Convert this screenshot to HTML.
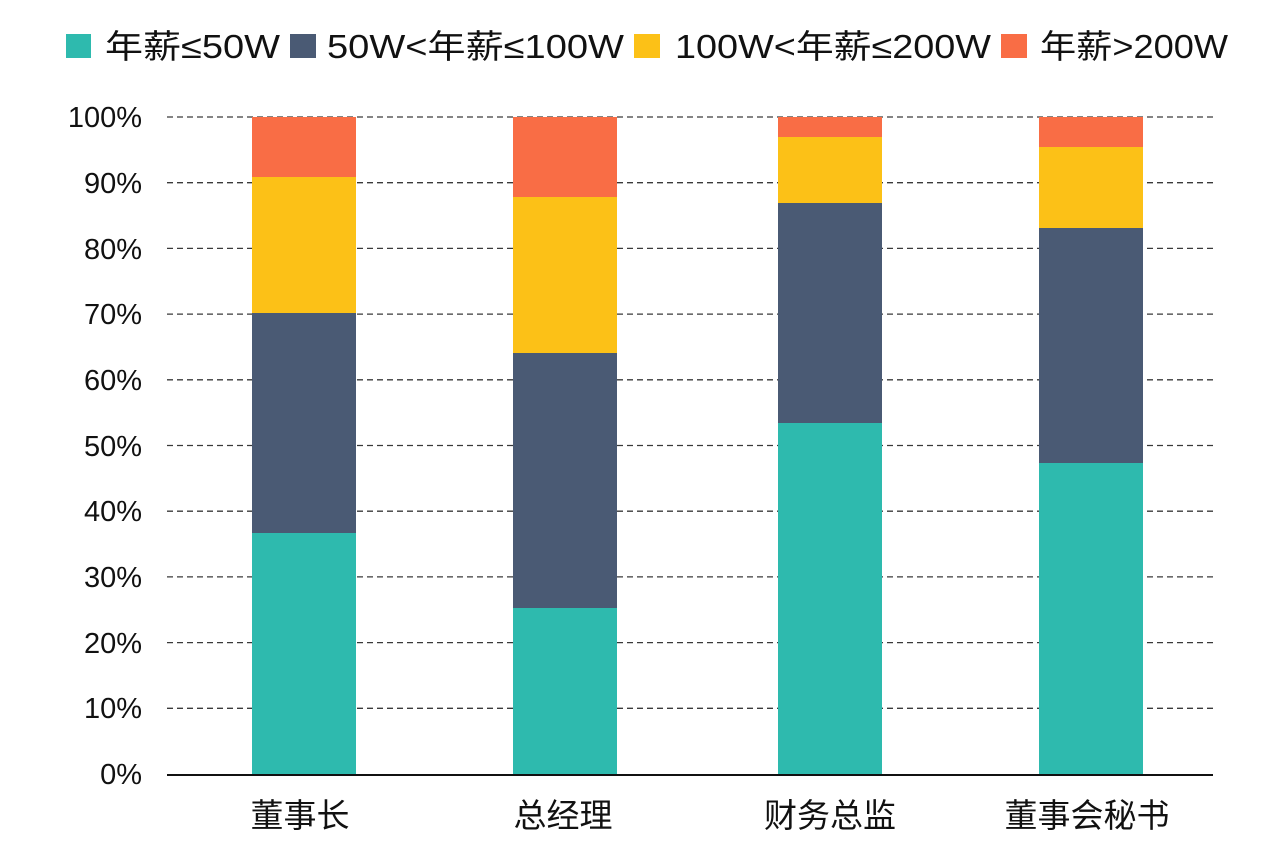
<!DOCTYPE html>
<html>
<head>
<meta charset="utf-8">
<style>
html,body{margin:0;padding:0;background:#fff;}
svg{display:block;}
text{font-family:"Liberation Sans","Noto Sans CJK SC",sans-serif;fill:#111;}
</style>
</head>
<body>
<svg width="1280" height="863" viewBox="0 0 1280 863" xmlns="http://www.w3.org/2000/svg">
<rect width="1280" height="863" fill="#fff"/>
<!-- legend -->
<rect x="66" y="34" width="25" height="24" fill="#2EBAAE"/>
<text x="105" y="58" font-size="33" textLength="175" lengthAdjust="spacingAndGlyphs">年薪≤50W</text>
<rect x="290" y="34" width="26" height="24" fill="#4A5A74"/>
<text x="327" y="58" font-size="33" textLength="297" lengthAdjust="spacingAndGlyphs">50W&lt;年薪≤100W</text>
<rect x="634" y="34" width="26" height="24" fill="#FCC117"/>
<text x="675" y="58" font-size="33" textLength="316" lengthAdjust="spacingAndGlyphs">100W&lt;年薪≤200W</text>
<rect x="1001" y="34" width="26" height="24" fill="#F96D45"/>
<text x="1040" y="58" font-size="33" textLength="188" lengthAdjust="spacingAndGlyphs">年薪&gt;200W</text>

<!-- gridlines -->
<g stroke="#3a3a3a" stroke-width="1.3" stroke-dasharray="6,4">
<line x1="167" x2="1213" y1="117" y2="117"/>
<line x1="167" x2="1213" y1="182.7" y2="182.7"/>
<line x1="167" x2="1213" y1="248.4" y2="248.4"/>
<line x1="167" x2="1213" y1="314.1" y2="314.1"/>
<line x1="167" x2="1213" y1="379.8" y2="379.8"/>
<line x1="167" x2="1213" y1="445.5" y2="445.5"/>
<line x1="167" x2="1213" y1="511.2" y2="511.2"/>
<line x1="167" x2="1213" y1="576.9" y2="576.9"/>
<line x1="167" x2="1213" y1="642.6" y2="642.6"/>
<line x1="167" x2="1213" y1="708.3" y2="708.3"/>
</g>

<!-- y labels -->
<g font-size="29" text-anchor="end">
<text x="142" y="127">100%</text>
<text x="142" y="193">90%</text>
<text x="142" y="259">80%</text>
<text x="142" y="324">70%</text>
<text x="142" y="390">60%</text>
<text x="142" y="456">50%</text>
<text x="142" y="521">40%</text>
<text x="142" y="587">30%</text>
<text x="142" y="653">20%</text>
<text x="142" y="718">10%</text>
<text x="142" y="784">0%</text>
</g>

<!-- bars -->
<!-- 董事长 -->
<rect x="252" y="117" width="104" height="60" fill="#F96D45"/>
<rect x="252" y="177" width="104" height="136" fill="#FCC117"/>
<rect x="252" y="313" width="104" height="220" fill="#4A5A74"/>
<rect x="252" y="533" width="104" height="241" fill="#2EBAAE"/>
<!-- 总经理 -->
<rect x="513" y="117" width="104" height="80" fill="#F96D45"/>
<rect x="513" y="197" width="104" height="156" fill="#FCC117"/>
<rect x="513" y="353" width="104" height="255" fill="#4A5A74"/>
<rect x="513" y="608" width="104" height="166" fill="#2EBAAE"/>
<!-- 财务总监 -->
<rect x="778" y="117" width="104" height="20" fill="#F96D45"/>
<rect x="778" y="137" width="104" height="66" fill="#FCC117"/>
<rect x="778" y="203" width="104" height="220" fill="#4A5A74"/>
<rect x="778" y="423" width="104" height="351" fill="#2EBAAE"/>
<!-- 董事会秘书 -->
<rect x="1039" y="117" width="104" height="30" fill="#F96D45"/>
<rect x="1039" y="147" width="104" height="81" fill="#FCC117"/>
<rect x="1039" y="228" width="104" height="235" fill="#4A5A74"/>
<rect x="1039" y="463" width="104" height="311" fill="#2EBAAE"/>

<!-- axis -->
<line x1="167" x2="1213" y1="775" y2="775" stroke="#111" stroke-width="2"/>

<!-- x labels -->
<g font-size="33" text-anchor="middle">
<text x="300" y="827">董事长</text>
<text x="563" y="827">总经理</text>
<text x="830" y="827">财务总监</text>
<text x="1087" y="827">董事会秘书</text>
</g>
</svg>
</body>
</html>
